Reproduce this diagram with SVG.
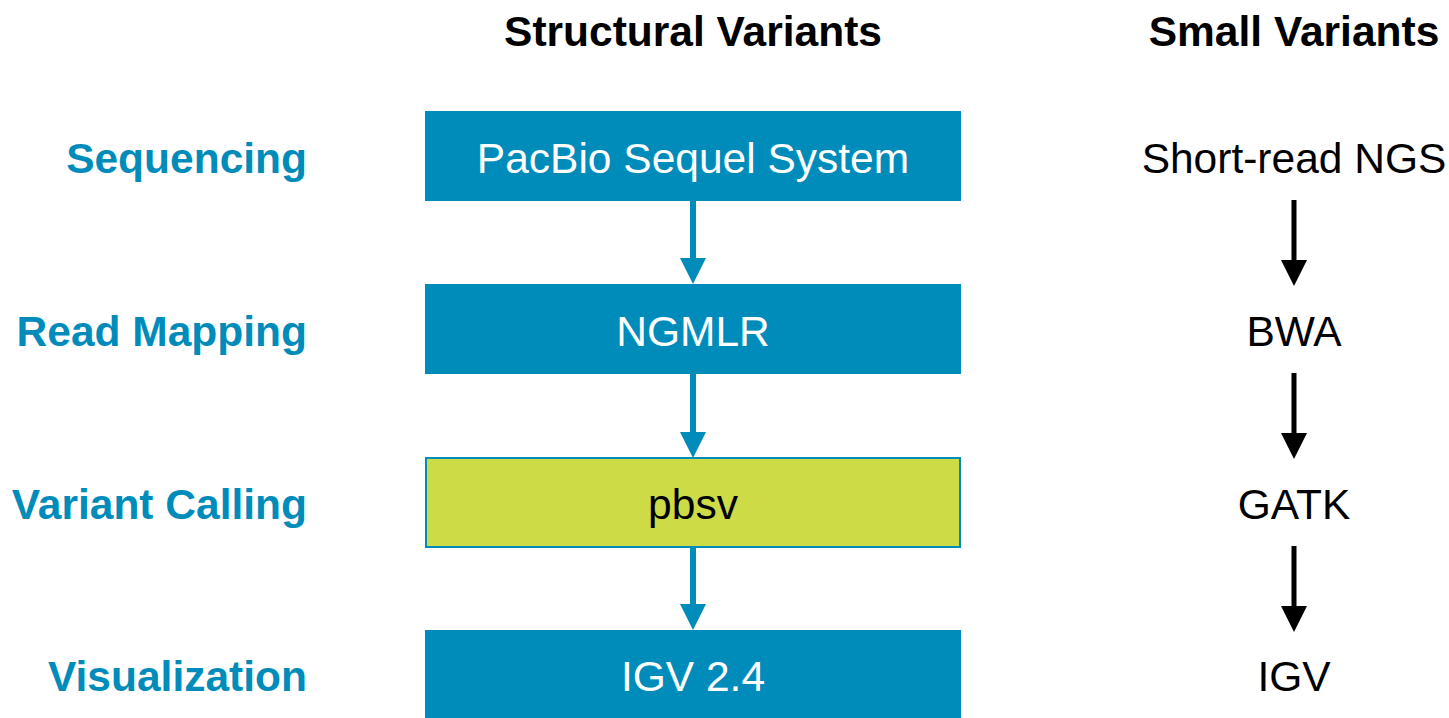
<svg xmlns="http://www.w3.org/2000/svg" width="1449" height="718" viewBox="0 0 1449 718">
<style>
.hdr{font-family:"Liberation Sans",Arial,sans-serif;font-weight:bold;font-size:42.5px;fill:#000;text-anchor:middle}
.lbl{font-family:"Liberation Sans",Arial,sans-serif;font-weight:bold;font-size:42.5px;fill:#008CBA;text-anchor:end}
.box{fill:#008CBA}
.boxy{fill:#CCDB46;stroke:#008CBA;stroke-width:2}
.bt{font-family:"Liberation Sans",Arial,sans-serif;font-size:42.5px;fill:#fff;text-anchor:middle}
.bt2{font-family:"Liberation Sans",Arial,sans-serif;font-size:42.5px;fill:#000;text-anchor:middle}
.cb{stroke:#008CBA;stroke-width:6;fill:none}
.ck{stroke:#000;stroke-width:5;fill:none}
</style>
<rect width="1449" height="718" fill="#fff"/>
<g id="headers">
<text class="hdr" x="693" y="46">Structural Variants</text>
<text class="hdr" x="1294" y="46">Small Variants</text>
</g>
<g id="labels">
<text class="lbl" x="307" y="173">Sequencing</text>
<text class="lbl" x="307" y="346">Read Mapping</text>
<text class="lbl" x="307" y="519">Variant Calling</text>
<text class="lbl" x="307" y="691">Visualization</text>
</g>
<g id="n1"><rect class="box" x="425" y="111" width="536" height="90"/><text class="bt" x="693" y="173">PacBio Sequel System</text></g>
<g id="n2"><rect class="box" x="425" y="284" width="536" height="90"/><text class="bt" x="693" y="346">NGMLR</text></g>
<g id="n3"><rect class="boxy" x="426" y="458" width="534" height="89"/><text class="bt2" x="693" y="519">pbsv</text></g>
<g id="n4"><rect class="box" x="425" y="630" width="536" height="90"/><text class="bt" x="693" y="691">IGV 2.4</text></g>
<g id="s1"><text class="bt2" x="1294" y="173">Short-read NGS</text></g>
<g id="s2"><text class="bt2" x="1294" y="346">BWA</text></g>
<g id="s3"><text class="bt2" x="1294" y="519">GATK</text></g>
<g id="s4"><text class="bt2" x="1294" y="691">IGV</text></g>
<g id="connectors">
<line class="cb" x1="693" y1="201" x2="693" y2="260"/><polygon fill="#008CBA" points="680,258 706,258 693,284"/>
<line class="cb" x1="693" y1="374" x2="693" y2="434"/><polygon fill="#008CBA" points="680,432 706,432 693,458"/>
<line class="cb" x1="693" y1="547" x2="693" y2="606"/><polygon fill="#008CBA" points="680,604 706,604 693,630"/>
<line class="ck" x1="1294" y1="200" x2="1294" y2="262"/><polygon fill="#000" points="1281,260 1307,260 1294,286"/>
<line class="ck" x1="1294" y1="373" x2="1294" y2="435"/><polygon fill="#000" points="1281,433 1307,433 1294,459"/>
<line class="ck" x1="1294" y1="546" x2="1294" y2="608"/><polygon fill="#000" points="1281,606 1307,606 1294,632"/>
</g>
</svg>
